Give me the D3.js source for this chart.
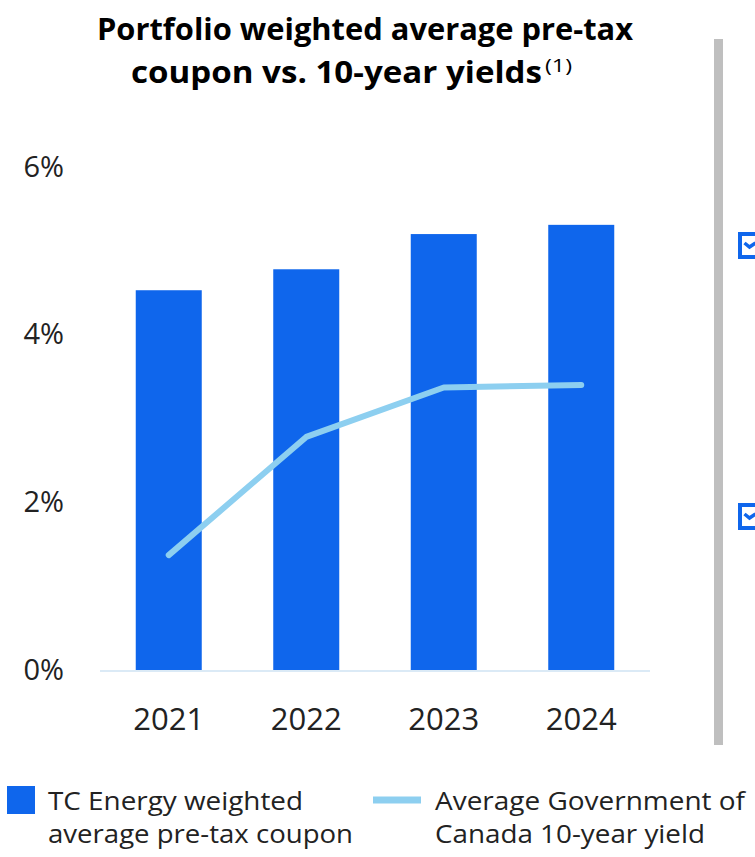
<!DOCTYPE html>
<html>
<head>
<meta charset="utf-8">
<script src="https://cdn.jsdelivr.net/npm/d3@7"></script>
<style>
  body { margin: 0; background: #fff; }
  svg { display: block; }
  text { fill: #222; }
</style>
</head>
<body>
<svg width="755" height="857"></svg>
<script>
// Chart data.
var years = ["2021", "2022", "2023", "2024"];
var coupon = [4.53, 4.78, 5.20, 5.31];      // TC Energy weighted average pre-tax coupon (%)
var govYield = [1.37, 2.78, 3.37, 3.40];    // Average Government of Canada 10-year yield (%)
var yTicks = [0, 2, 4, 6];

var width = 755, height = 857;
var barColor = "#0f66ec";
var lineColor = "#8dcff0";

var svg = d3.select("svg");

// Title, two lines; the Calibri-like face is approximated with a squeezed sans.
var title = svg.append("g")
  .attr("font-family", "'Open Sans', sans-serif")
  .attr("font-weight", "bold")
  .attr("font-size", 30);
title.append("text")
  .attr("x", 97).attr("y", 40)
  .attr("textLength", 536).attr("lengthAdjust", "spacingAndGlyphs")
  .style("fill", "#000")
  .text("Portfolio weighted average pre-tax");
title.append("text")
  .attr("x", 131).attr("y", 83)
  .attr("textLength", 411).attr("lengthAdjust", "spacingAndGlyphs")
  .style("fill", "#000")
  .text("coupon vs. 10-year yields");
title.append("text")
  .attr("x", 545).attr("y", 72)
  .attr("font-weight", "normal")
  .attr("font-size", 18)
  .attr("textLength", 27).attr("lengthAdjust", "spacingAndGlyphs")
  .style("fill", "#000")
  .text("(1)");

var x = d3.scaleBand()
  .domain(years)
  .range([100, 650])
  .paddingInner(0.52)
  .paddingOuter(0.26);

var y = d3.scaleLinear()
  .domain([0, 6])
  .range([670, 167]);

// Bars.
svg.append("g").selectAll("rect")
  .data(years)
  .enter().append("rect")
    .attr("x", function(d) { return x(d); })
    .attr("y", function(d, i) { return y(coupon[i]); })
    .attr("width", x.bandwidth())
    .attr("height", function(d, i) { return y(0) - y(coupon[i]); })
    .attr("fill", barColor);

// Baseline.
svg.append("line")
  .attr("x1", 100).attr("x2", 650)
  .attr("y1", y(0) + 1).attr("y2", y(0) + 1)
  .attr("stroke", "#dbeaf6")
  .attr("stroke-width", 2);

// Yield line.
var line = d3.line()
  .x(function(d, i) { return x(years[i]) + x.bandwidth() / 2; })
  .y(function(d) { return y(d); });

svg.append("path")
  .datum(govYield)
  .attr("d", line)
  .attr("fill", "none")
  .attr("stroke", lineColor)
  .attr("stroke-width", 6)
  .attr("stroke-linecap", "round")
  .attr("stroke-linejoin", "round");

// Y axis labels (no axis line, no ticks).
var yAxis = svg.append("g")
  .attr("transform", "translate(64,0)")
  .call(d3.axisLeft(y).tickValues(yTicks).tickSize(0).tickPadding(0)
    .tickFormat(function(d) { return d + "%"; }));
yAxis.select(".domain").remove();
yAxis.selectAll("text")
  .attr("font-family", "'Open Sans', sans-serif")
  .attr("font-size", 29)
  .style("fill", "#222");

// X axis labels, baseline placed directly.
var xAxis = svg.append("g")
  .attr("transform", "translate(0,730)")
  .call(d3.axisBottom(x).tickSize(0).tickPadding(0));
xAxis.select(".domain").remove();
xAxis.selectAll("text")
  .attr("font-family", "'Open Sans', sans-serif")
  .attr("font-size", 31)
  .attr("y", 0)
  .attr("dy", 0)
  .style("fill", "#222");

// Grey divider on the right, and the clipped check-box icons beside it.
svg.append("rect")
  .attr("x", 714).attr("y", 39)
  .attr("width", 9).attr("height", 706)
  .attr("fill", "#bfbfbf");

var checks = svg.append("g");
[232, 503].forEach(function(top) {
  checks.append("rect")
    .attr("x", 740).attr("y", top + 2)
    .attr("width", 24).attr("height", 23)
    .attr("fill", "none")
    .attr("stroke", barColor)
    .attr("stroke-width", 4);
  checks.append("path")
    .attr("d", "M744.5," + (top + 11) + " l5,4 l6,-4")
    .attr("fill", "none")
    .attr("stroke", barColor)
    .attr("stroke-width", 3.5);
});

// Legend.
var legend = svg.append("g")
  .attr("font-family", "'Open Sans', sans-serif")
  .attr("font-size", 26);

legend.append("rect")
  .attr("x", 7).attr("y", 786)
  .attr("width", 28).attr("height", 28)
  .attr("fill", barColor);
legend.append("text")
  .attr("x", 48).attr("y", 810)
  .attr("textLength", 255).attr("lengthAdjust", "spacingAndGlyphs")
  .text("TC Energy weighted");
legend.append("text")
  .attr("x", 48).attr("y", 843)
  .attr("textLength", 305).attr("lengthAdjust", "spacingAndGlyphs")
  .text("average pre-tax coupon");

legend.append("line")
  .attr("x1", 373).attr("x2", 421)
  .attr("y1", 800).attr("y2", 800)
  .attr("stroke", lineColor)
  .attr("stroke-width", 7);
legend.append("text")
  .attr("x", 435).attr("y", 810)
  .attr("textLength", 310).attr("lengthAdjust", "spacingAndGlyphs")
  .text("Average Government of");
legend.append("text")
  .attr("x", 435).attr("y", 843)
  .attr("textLength", 270).attr("lengthAdjust", "spacingAndGlyphs")
  .text("Canada 10-year yield");
</script>
</body>
</html>
